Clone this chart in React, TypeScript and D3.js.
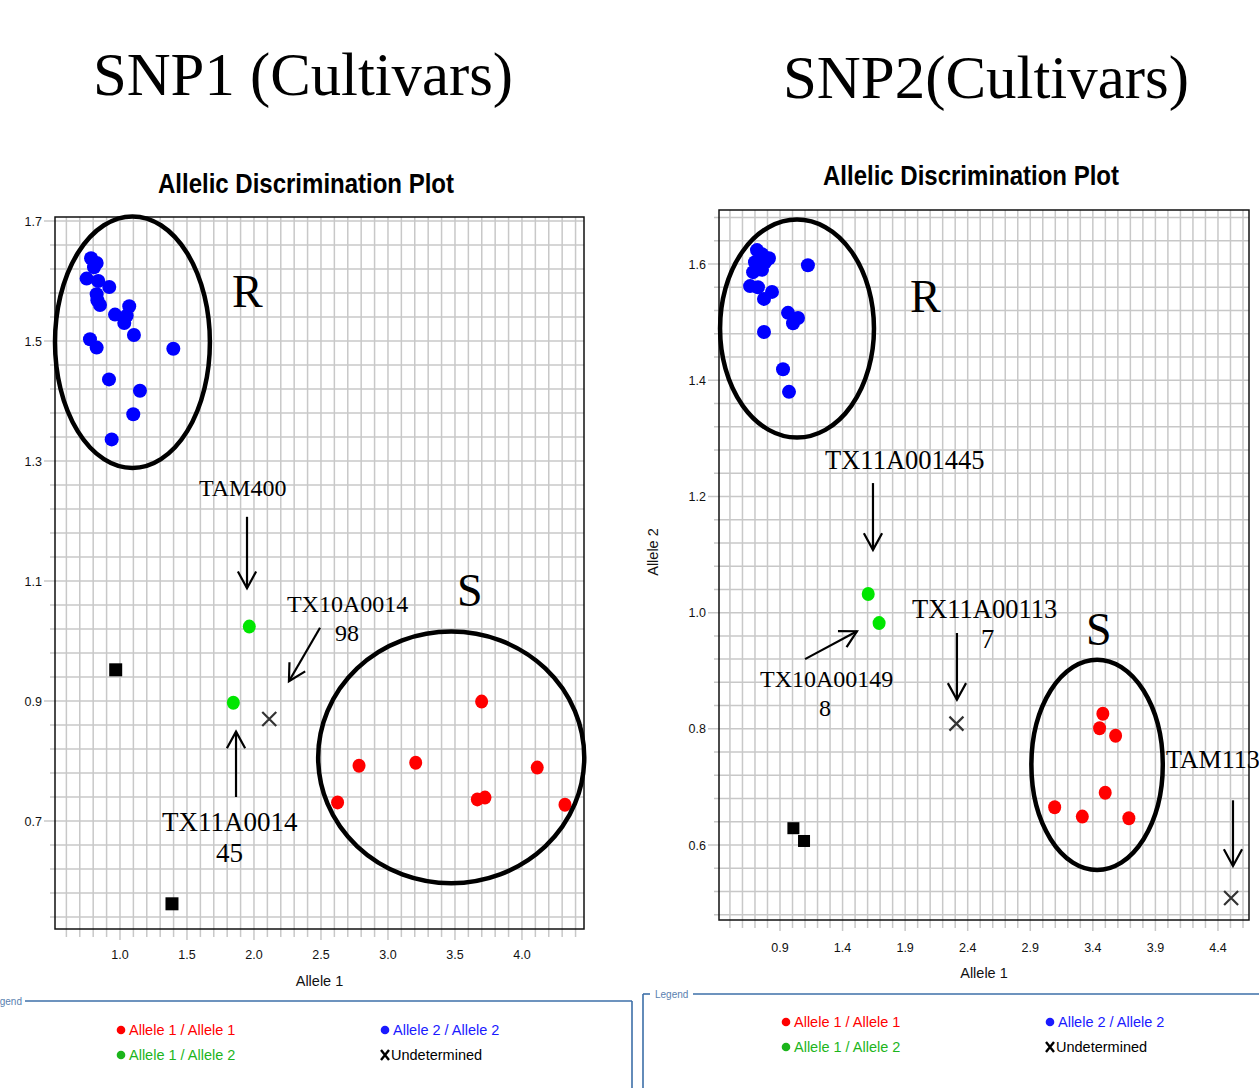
import * as d3 from 'd3';

type Pt = [number, number];

// ---------- SNP1 data (Allele 1, Allele 2) ----------
const snp1Blue: Pt[] = [
  [0.784, 1.638], [0.826, 1.630], [0.806, 1.623], [0.751, 1.604], [0.838, 1.600],
  [0.920, 1.590], [0.826, 1.578], [0.831, 1.568], [0.851, 1.560], [0.963, 1.544],
  [1.069, 1.558], [1.050, 1.542], [1.032, 1.530], [1.104, 1.510], [0.776, 1.503],
  [0.826, 1.489], [1.398, 1.487], [0.918, 1.436], [1.149, 1.417], [1.099, 1.378],
  [0.938, 1.336],
];
const snp1Green: Pt[] = [[1.965, 1.024], [1.846, 0.897]];
const snp1Red: Pt[] = [
  [3.699, 0.899], [2.784, 0.792], [3.207, 0.797], [4.114, 0.789],
  [2.624, 0.731], [3.667, 0.736], [3.724, 0.739], [4.321, 0.727],
];
const snp1Undetermined: Pt[] = [[2.114, 0.870]];
const snp1Ntc: Pt[] = [[0.968, 0.952], [1.388, 0.562]];
const snp1XTicks = [1.0, 1.5, 2.0, 2.5, 3.0, 3.5, 4.0];
const snp1YTicks = [0.7, 0.9, 1.1, 1.3, 1.5, 1.7];

// ---------- SNP2 data ----------
const snp2Blue: Pt[] = [
  [0.716, 1.624], [0.756, 1.617], [0.812, 1.610], [0.700, 1.603], [0.780, 1.603],
  [0.685, 1.586], [0.756, 1.590], [0.661, 1.562], [0.724, 1.560], [0.836, 1.552],
  [0.772, 1.540], [0.964, 1.516], [1.044, 1.507], [1.004, 1.498], [1.123, 1.598],
  [0.772, 1.483], [0.924, 1.419], [0.972, 1.380],
];
const snp2Green: Pt[] = [[1.605, 1.032], [1.692, 0.982]];
const snp2Red: Pt[] = [
  [3.480, 0.826], [3.454, 0.801], [3.582, 0.788], [3.499, 0.690],
  [3.095, 0.665], [3.316, 0.649], [3.688, 0.646],
];
const snp2Undetermined: Pt[] = [[2.310, 0.809], [4.505, 0.509]];
const snp2Ntc: Pt[] = [[1.007, 0.629], [1.092, 0.607]];
const snp2XTicks = [0.9, 1.4, 1.9, 2.4, 2.9, 3.4, 3.9, 4.4];
const snp2YTicks = [0.6, 0.8, 1.0, 1.2, 1.4, 1.6];

// annotations, in data units
type Label = { text: string; x: number; y: number; size: number };
type Arrow = { x1: number; y1: number; x2: number; y2: number };
type Ring = { cx: number; cy: number; rx: number; ry: number };

const snp1Labels: Label[] = [
  { text: 'R', x: 1.836, y: 1.557, size: 46 },
  { text: 'TAM400', x: 1.590, y: 1.242, size: 24 },
  { text: 'TX10A0014', x: 2.246, y: 1.048, size: 24 },
  { text: '98', x: 2.604, y: 1.0, size: 24 },
  { text: 'S', x: 3.515, y: 1.058, size: 46 },
  { text: 'TX11A0014', x: 1.313, y: 0.683, size: 27 },
  { text: '45', x: 1.716, y: 0.632, size: 27 },
];
const snp1Arrows: Arrow[] = [
  { x1: 1.948, y1: 1.207, x2: 1.948, y2: 1.088 },
  { x1: 2.493, y1: 1.022, x2: 2.261, y2: 0.933 },
  { x1: 1.866, y1: 0.740, x2: 1.866, y2: 0.849 },
];
const snp1Rings: Ring[] = [
  { cx: 1.093, cy: 1.498, rx: 0.578, ry: 0.2097 },
  { cx: 3.472, cy: 0.806, rx: 0.993, ry: 0.2097 },
];

const snp2Labels: Label[] = [
  { text: 'R', x: 1.939, y: 1.517, size: 46 },
  { text: 'TX11A001445', x: 1.260, y: 1.247, size: 26.5 },
  { text: 'TX10A00149', x: 0.740, y: 0.872, size: 24 },
  { text: '8', x: 1.212, y: 0.822, size: 24 },
  { text: 'TX11A00113', x: 1.955, y: 0.991, size: 26.5 },
  { text: '7', x: 2.506, y: 0.939, size: 26.5 },
  { text: 'S', x: 3.345, y: 0.944, size: 46 },
  { text: 'TAM113', x: 3.985, y: 0.733, size: 26 },
];
const snp2Arrows: Arrow[] = [
  { x1: 1.643, y1: 1.223, x2: 1.643, y2: 1.108 },
  { x1: 1.100, y1: 0.920, x2: 1.515, y2: 0.968 },
  { x1: 2.314, y1: 0.965, x2: 2.314, y2: 0.850 },
  { x1: 4.520, y1: 0.677, x2: 4.520, y2: 0.564 },
];
const snp2Rings: Ring[] = [
  { cx: 1.036, cy: 1.489, rx: 0.615, ry: 0.1876 },
  { cx: 3.434, cy: 0.738, rx: 0.525, ry: 0.181 },
];

const legendItems = [
  { label: 'Allele 1 / Allele 1', color: '#ff0000', kind: 'dot' },
  { label: 'Allele 1 / Allele 2', color: '#1cb51c', kind: 'dot' },
  { label: 'Allele 2 / Allele 2', color: '#1a1aff', kind: 'dot' },
  { label: 'Undetermined', color: '#000', kind: 'x' },
];

const SANS = '"Liberation Sans Narrow", "Liberation Sans", Arial, sans-serif';
const SERIF = '"Liberation Serif", "Times New Roman", serif';

interface PanelProps {
  header: string;
  headerX: number;
  headerY: number;
  headerW: number;
  titleX: number;
  titleY: number;
  box: { left: number; top: number; right: number; bottom: number };
  xDomain: [number, number];
  yDomain: [number, number];
  yBase: number;
  xTicks: number[];
  yTicks: number[];
  blue: Pt[];
  green: Pt[];
  red: Pt[];
  und: Pt[];
  ntc: Pt[];
  labels: Label[];
  arrows: Arrow[];
  rings: Ring[];
  tickLabelY: number;
  axisTitleY: number;
  yTitle?: { x: number; y: number };
  dotR: number;
  sq: number;
}

function arrowHead(a: Arrow, x: d3.ScaleLinear<number, number>, y: d3.ScaleLinear<number, number>) {
  const x1 = x(a.x1), y1 = y(a.y1), x2 = x(a.x2), y2 = y(a.y2);
  const ang = Math.atan2(y2 - y1, x2 - x1);
  const len = 19, spread = 0.5;
  const p1 = [x2 - len * Math.cos(ang - spread), y2 - len * Math.sin(ang - spread)];
  const p2 = [x2 - len * Math.cos(ang + spread), y2 - len * Math.sin(ang + spread)];
  return `M${p1[0]},${p1[1]}L${x2},${y2}L${p2[0]},${p2[1]}`;
}

function Panel(p: PanelProps) {
  const { box } = p;
  const x = d3.scaleLinear().domain(p.xDomain).range([box.left, box.right]);
  const y = d3.scaleLinear().domain(p.yDomain).range([box.bottom, box.top]);

  const xGrid = d3.range(Math.ceil(p.xDomain[0] * 10), Math.floor(p.xDomain[1] * 10) + 1).map(k => k / 10);
  const yGrid = d3
    .range(Math.ceil((p.yDomain[0] - p.yBase) / 0.04 - 1e-6), Math.floor((p.yDomain[1] - p.yBase) / 0.04 + 1e-6) + 1)
    .map(k => +(p.yBase + k * 0.04).toFixed(3));
  const isMajorY = (v: number) => p.yTicks.some(t => Math.abs(t - v) < 1e-6);
  const isMajorX = (v: number) => p.xTicks.some(t => Math.abs(t - v) < 1e-6);

  return (
    <g>
      <text x={p.headerX} y={p.headerY} fontFamily={SERIF} fontSize={62} textLength={p.headerW}
        lengthAdjust="spacingAndGlyphs">{p.header}</text>
      <text x={p.titleX} y={p.titleY} fontFamily={SANS} fontWeight="bold" fontSize={28} textLength={296}
        lengthAdjust="spacingAndGlyphs">Allelic Discrimination Plot</text>

      {/* grid */}
      <g stroke="#c8c8c8" strokeWidth={1.5}>
        {xGrid.map(v => (
          <line key={'xg' + v} x1={x(v)} x2={x(v)} y1={box.top} y2={box.bottom + (isMajorX(v) ? 11 : 8)} />
        ))}
        {yGrid.map(v => (
          <line key={'yg' + v} x1={box.left - (isMajorY(v) ? 11 : 5)} x2={box.right} y1={y(v)} y2={y(v)} />
        ))}
      </g>
      <rect x={box.left} y={box.top} width={box.right - box.left} height={box.bottom - box.top}
        fill="none" stroke="#111" strokeWidth={1.5} />

      {/* tick labels */}
      <g fontFamily={SANS} fontSize={12.5} fill="#111">
        {p.yTicks.map(v => (
          <text key={'yt' + v} x={box.left - 13} y={y(v) + 4.5} textAnchor="end">{v.toFixed(1)}</text>
        ))}
        {p.xTicks.map(v => (
          <text key={'xt' + v} x={x(v)} y={p.tickLabelY} textAnchor="middle">{v.toFixed(1)}</text>
        ))}
      </g>
      <text x={(box.left + box.right) / 2} y={p.axisTitleY} textAnchor="middle" fontFamily={SANS}
        fontSize={14.5} fill="#111">Allele 1</text>
      {p.yTitle && (
        <text transform={`translate(${p.yTitle.x},${p.yTitle.y}) rotate(-90)`} textAnchor="middle"
          fontFamily={SANS} fontSize={14.5} fill="#111">Allele 2</text>
      )}

      {/* marks */}
      {p.blue.map((d, i) => <circle key={'b' + i} cx={x(d[0])} cy={y(d[1])} r={p.dotR} fill="#0000ff" />)}
      {p.green.map((d, i) => <ellipse key={'g' + i} cx={x(d[0])} cy={y(d[1])} rx={p.dotR - 0.5} ry={p.dotR} fill="#00e600" />)}
      {p.red.map((d, i) => <ellipse key={'r' + i} cx={x(d[0])} cy={y(d[1])} rx={p.dotR - 0.5} ry={p.dotR} fill="#ff0000" />)}
      {p.ntc.map((d, i) => (
        <rect key={'n' + i} x={x(d[0]) - p.sq / 2} y={y(d[1]) - p.sq / 2} width={p.sq} height={p.sq} fill="#000" />
      ))}
      {p.und.map((d, i) => (
        <path key={'u' + i}
          d={`M${x(d[0]) - 7},${y(d[1]) - 7}L${x(d[0]) + 7},${y(d[1]) + 7}M${x(d[0]) + 7},${y(d[1]) - 7}L${x(d[0]) - 7},${y(d[1]) + 7}`}
          stroke="#333" strokeWidth={2.2} fill="none" />
      ))}

      {/* annotations */}
      {p.rings.map((r, i) => (
        <ellipse key={'ring' + i} cx={x(r.cx)} cy={y(r.cy)} rx={x(r.cx + r.rx) - x(r.cx)} ry={y(r.cy) - y(r.cy + r.ry)}
          fill="none" stroke="#000" strokeWidth={4.5} />
      ))}
      {p.arrows.map((a, i) => (
        <g key={'ar' + i} stroke="#000" strokeWidth={2.2} fill="none">
          <line x1={x(a.x1)} y1={y(a.y1)} x2={x(a.x2)} y2={y(a.y2)} />
          <path d={arrowHead(a, x, y)} />
        </g>
      ))}
      {p.labels.map((l, i) => (
        <text key={'lb' + i} x={x(l.x)} y={y(l.y)} fontFamily={SERIF} fontSize={l.size} fill="#000">{l.text}</text>
      ))}
    </g>
  );
}

function Legend({ left, top, right, legendX, anchorEnd, dotX, dotX2, row1, row2 }: {
  left: number; top: number; right: number; legendX: number; anchorEnd: boolean;
  dotX: number; dotX2: number; row1: number; row2: number;
}) {
  const pos = [
    [dotX, row1], [dotX, row2], [dotX2, row1], [dotX2, row2],
  ];
  return (
    <g>
      <g stroke="#3d6fa8" strokeWidth={1.6} fill="none">
        {anchorEnd ? (
          <>
            <line x1={legendX + 3} x2={right} y1={top} y2={top} />
            <line x1={right} x2={right} y1={top} y2={1088} />
          </>
        ) : (
          <>
            <line x1={left} x2={left + 7} y1={top} y2={top} />
            <line x1={left} x2={left} y1={top} y2={1088} />
            <line x1={legendX + 38} x2={right} y1={top} y2={top} />
          </>
        )}
      </g>
      <text x={legendX} y={top + 3.5} textAnchor={anchorEnd ? 'end' : 'start'} fontFamily={SANS} fontSize={10}
        fill="#5a7fb0">Legend</text>
      {legendItems.map((it, i) => {
        const [cx, cy] = pos[i];
        return (
          <g key={it.label}>
            {it.kind === 'dot' ? (
              <circle cx={cx} cy={cy} r={4.3} fill={it.color} />
            ) : (
              <path d={`M${cx - 4},${cy - 5}L${cx + 4},${cy + 5}M${cx + 4},${cy - 5}L${cx - 4},${cy + 5}`}
                stroke="#000" strokeWidth={2.4} />
            )}
            <text x={cx + (it.kind === 'dot' ? 8 : 6)} y={cy + 5} fontFamily={SANS} fontSize={14.5} fill={it.color}>
              {it.label}
            </text>
          </g>
        );
      })}
    </g>
  );
}

export default function App() {
  return (
    <svg width={1259} height={1088} style={{ position: 'absolute', left: 0, top: 0, display: 'block', background: '#fff' }}>
      <rect width={1259} height={1088} fill="#fff" />
      <Panel
        header="SNP1 (Cultivars)" headerX={93} headerY={95} headerW={420}
        titleX={158} titleY={193}
        box={{ left: 55, top: 217, right: 584, bottom: 929 }}
        xDomain={[0.515, 4.463]} yDomain={[0.52, 1.7067]} yBase={0.7}
        xTicks={snp1XTicks} yTicks={snp1YTicks}
        blue={snp1Blue} green={snp1Green} red={snp1Red} und={snp1Undetermined} ntc={snp1Ntc}
        labels={snp1Labels} arrows={snp1Arrows} rings={snp1Rings}
        tickLabelY={959} axisTitleY={986} dotR={7} sq={13}
      />
      <Panel
        header="SNP2(Cultivars)" headerX={783} headerY={98} headerW={406}
        titleX={823} titleY={185}
        box={{ left: 719, top: 210, right: 1249, bottom: 920 }}
        xDomain={[0.4125, 4.648]} yDomain={[0.471, 1.693]} yBase={0.6}
        xTicks={snp2XTicks} yTicks={snp2YTicks}
        blue={snp2Blue} green={snp2Green} red={snp2Red} und={snp2Undetermined} ntc={snp2Ntc}
        labels={snp2Labels} arrows={snp2Arrows} rings={snp2Rings}
        tickLabelY={952} axisTitleY={978} yTitle={{ x: 658, y: 552 }} dotR={7} sq={12}
      />
      <Legend left={0} top={1001} right={632} legendX={22} anchorEnd={true}
        dotX={121} dotX2={385} row1={1030} row2={1055} />
      <Legend left={643} top={994} right={1259} legendX={655} anchorEnd={false}
        dotX={786} dotX2={1050} row1={1022} row2={1047} />
    </svg>
  );
}
